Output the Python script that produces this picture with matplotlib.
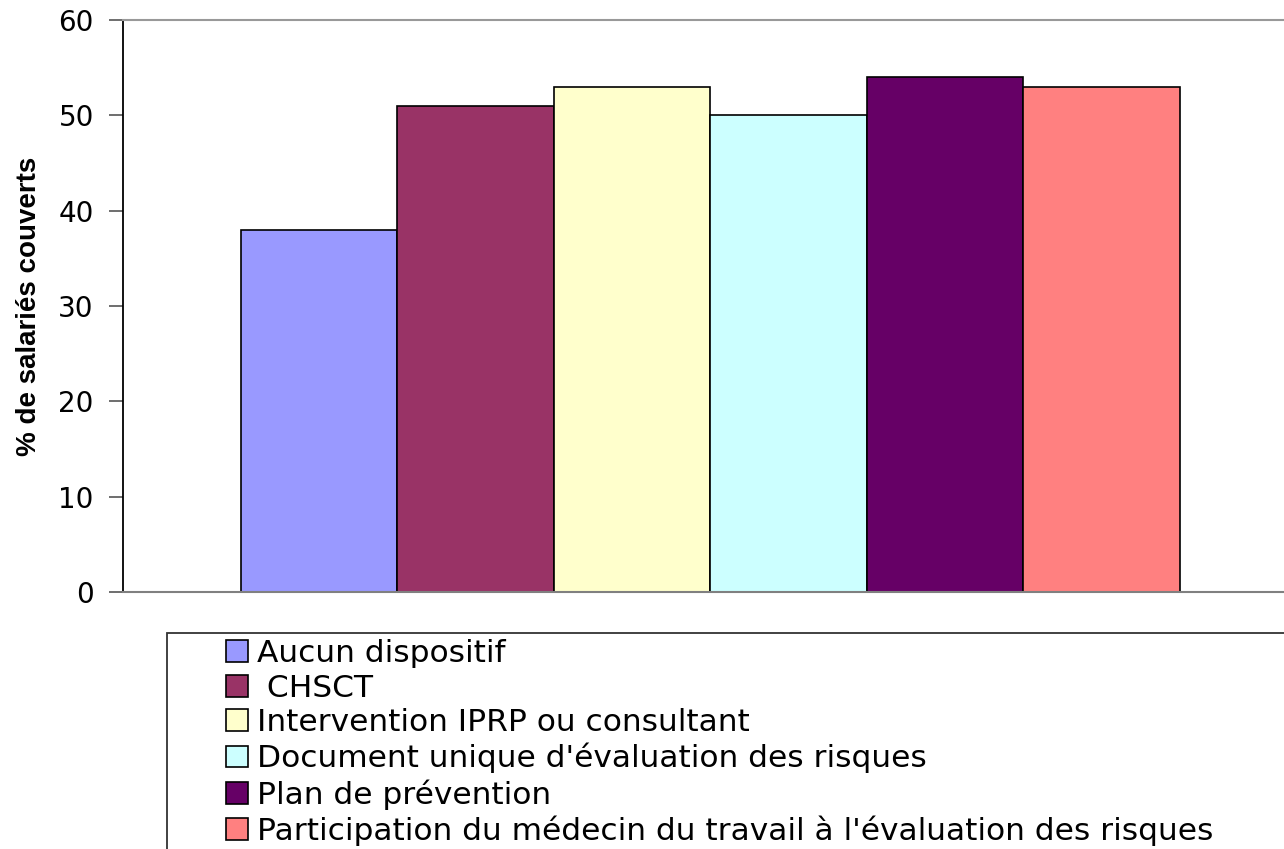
import matplotlib
matplotlib.use("Agg")
import matplotlib.pyplot as plt
from matplotlib.patches import Rectangle

plt.rcParams['font.family'] = ['DejaVu Sans']

categories = ["Aucun dispositif", " CHSCT", "Intervention IPRP ou consultant",
              "Document unique d'évaluation des risques", "Plan de prévention",
              "Participation du médecin du travail à l'évaluation des risques"]
values = [38, 51, 53, 50, 54, 53]
colors = ['#9999FF', '#993366', '#FFFFCC', '#CCFFFF', '#660066', '#FF8080']
yticks = [0, 10, 20, 30, 40, 50, 60]

W, H = 1284, 849
fig = plt.figure(figsize=(W / 100, H / 100), dpi=100)
ax = fig.add_axes([123 / W, 1 - 592 / H, 1 - 123 / W + 0.01, (592 - 20) / H])

bars = []
for i, (v, c, lab) in enumerate(zip(values, colors, categories)):
    b = ax.bar(i, v, width=1, align='edge', color=c, edgecolor='black',
               linewidth=1.2, label=lab)
    bars.append(b)

ax.set_xlim(-0.755, 6.75)
ax.set_ylim(0, 60)
ax.set_yticks(yticks)
ax.set_xticks([])
ax.tick_params(axis='y', labelsize=20, length=10, width=1.2, direction='out',
               color='#555555', pad=11)
ax.spines['left'].set_color('black')
ax.spines['left'].set_linewidth(1.3)
ax.spines['bottom'].set_color('#808080')
ax.spines['bottom'].set_linewidth(1.5)
ax.spines['top'].set_color('#999999')
ax.spines['top'].set_linewidth(1.5)
ax.spines['right'].set_visible(False)
ax.set_ylabel('% de salariés couverts', fontsize=20, fontweight='bold',
              family='Liberation Sans', labelpad=12)

# legend frame running off the figure edge
fig.patches.append(Rectangle((167 / W, -0.05), 1.1, 0.05 + 1 - 633 / H,
                             transform=fig.transFigure, fill=False,
                             edgecolor='#333333', linewidth=1.3))
fig.legend(handles=[b[0] for b in bars], labels=categories,
           loc='upper left', bbox_to_anchor=(226 / W, 1 - 639 / H),
           frameon=False, fontsize=22.5, handlelength=0.7, handleheight=0.7,
           handletextpad=0.3, labelspacing=0.18, borderpad=0, borderaxespad=0)

fig.savefig('out.png', dpi=100)
